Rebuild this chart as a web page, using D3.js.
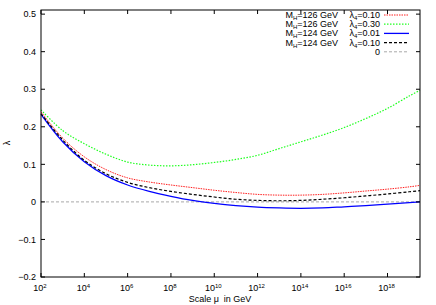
<!DOCTYPE html>
<html>
<head>
<meta charset="utf-8">
<script src="https://cdn.jsdelivr.net/npm/d3@7"></script>
<style>
  body { margin: 0; background: #fff; }
  svg text { font-family: "Liberation Sans", Arial, sans-serif; fill: #000; }
</style>
</head>
<body>
<div id="chart"></div>
<script>
// log10 of the scale mu (GeV)
const logMu = [2, 3, 4, 5, 6, 7, 8, 9, 10, 11, 12, 13, 14, 15, 16, 17, 18, 19, 19.5];

// lambda running for each parameter set
const red126_010 = [0.240, 0.170, 0.120, 0.086, 0.064, 0.053, 0.045, 0.038, 0.031, 0.025, 0.020, 0.018, 0.018, 0.020, 0.024, 0.029, 0.034, 0.040, 0.044];
const green126_030 = [0.245, 0.190, 0.155, 0.127, 0.106, 0.098, 0.096, 0.099, 0.105, 0.113, 0.124, 0.142, 0.160, 0.178, 0.198, 0.222, 0.249, 0.282, 0.297];
const blue124_001 = [0.233, 0.160, 0.107, 0.070, 0.045, 0.028, 0.015, 0.004, -0.004, -0.010, -0.014, -0.016, -0.017, -0.016, -0.013, -0.010, -0.006, -0.002, 0.000];
const black124_010 = [0.235, 0.165, 0.111, 0.075, 0.052, 0.038, 0.028, 0.020, 0.013, 0.007, 0.004, 0.003, 0.004, 0.007, 0.011, 0.016, 0.021, 0.027, 0.030];

const xTickExp = [2, 4, 6, 8, 10, 12, 14, 16, 18];
const yTicks = [-0.2, -0.1, 0, 0.1, 0.2, 0.3, 0.4, 0.5];

const legendMass = ['126', '126', '124', '124'];
const legendLam = ['0.10', '0.30', '0.01', '0.10'];

const width = 436;
const height = 305;
const margin = { top: 10, right: 16, bottom: 28, left: 41 };

const series = [
    { values: red126_010, color: '#ff2020', dash: '1.5,1', w: 1 },
    { values: green126_030, color: '#20ff20', dash: '1.5,1.5', w: 1.2 },
    { values: blue124_001, color: '#0000ff', dash: null, w: 1.3 },
    { values: black124_010, color: '#000000', dash: '3,2', w: 1.2 },
];

const svg = d3.select('#chart')
    .append('svg')
    .attr('width', width)
    .attr('height', height);

const x = d3.scaleLog()
    .domain([1e2, Math.pow(10, 19.5)])
    .range([margin.left, width - margin.right]);

const y = d3.scaleLinear()
    .domain([-0.2, 0.511])
    .range([height - margin.bottom, margin.top]);

const x0 = margin.left, x1 = width - margin.right;
const y0 = height - margin.bottom, y1 = margin.top;

// zero line
svg.append('line')
    .attr('x1', x0).attr('x2', x1)
    .attr('y1', y(0)).attr('y2', y(0))
    .attr('stroke', '#a8a8a8')
    .attr('stroke-width', 1)
    .attr('stroke-dasharray', '3,2');

// curves
const line = d3.line()
    .x((d, i) => x(Math.pow(10, logMu[i])))
    .y(d => y(d))
    .curve(d3.curveCatmullRom);

svg.append('g')
    .selectAll('path')
    .data(series)
    .join('path')
    .attr('d', d => line(d.values))
    .attr('fill', 'none')
    .attr('stroke', d => d.color)
    .attr('stroke-width', d => d.w)
    .attr('stroke-dasharray', d => d.dash);

// frame
svg.append('rect')
    .attr('x', x0).attr('y', y1)
    .attr('width', x1 - x0).attr('height', y0 - y1)
    .attr('fill', 'none')
    .attr('stroke', '#000')
    .attr('stroke-width', 1);

// ticks (inward, mirrored)
const tickLen = 4;
const tk = svg.append('g').attr('stroke', '#000').attr('stroke-width', 1);
xTickExp.forEach(e => {
    const px = x(Math.pow(10, e));
    tk.append('line').attr('x1', px).attr('x2', px).attr('y1', y0).attr('y2', y0 - tickLen);
    tk.append('line').attr('x1', px).attr('x2', px).attr('y1', y1).attr('y2', y1 + tickLen);
});
yTicks.forEach(v => {
    const py = y(v);
    tk.append('line').attr('x1', x0).attr('x2', x0 + tickLen).attr('y1', py).attr('y2', py);
    tk.append('line').attr('x1', x1).attr('x2', x1 - tickLen).attr('y1', py).attr('y2', py);
});

// y tick labels
svg.append('g')
    .selectAll('text')
    .data(yTicks)
    .join('text')
    .attr('x', x0 - 5)
    .attr('y', d => y(d) + 3.2)
    .attr('text-anchor', 'end')
    .attr('font-size', '9px')
    .text(d => d === 0 ? '0' : d3.format('.1f')(d));

// x tick labels 10^n
const xl = svg.append('g')
    .selectAll('text')
    .data(xTickExp)
    .join('text')
    .attr('x', d => x(Math.pow(10, d)) - 1)
    .attr('y', y0 + 14)
    .attr('text-anchor', 'middle')
    .attr('font-size', '9px');
xl.append('tspan').text('10');
xl.append('tspan').attr('dy', -3.5).attr('font-size', '6px').text(d => d);

// axis titles
svg.append('text')
    .attr('x', 220)
    .attr('y', 302)
    .attr('text-anchor', 'middle')
    .attr('font-size', '9px')
    .style('white-space', 'pre')
    .text('Scale μ  in GeV');

svg.append('text')
    .attr('transform', 'translate(10,143) rotate(-90)')
    .attr('text-anchor', 'middle')
    .attr('font-size', '9px')
    .text('λ');

// legend
const legY = i => 15 + i * 9.2;
const leg = svg.append('g');
series.forEach((s, i) => {
    const t1 = leg.append('text')
        .attr('x', 338).attr('y', legY(i) + 3)
        .attr('text-anchor', 'end')
        .attr('font-size', '9px');
    t1.append('tspan').text('M');
    t1.append('tspan').attr('dy', 2).attr('font-size', '6px').text('H');
    t1.append('tspan').attr('dy', -2).text('=' + legendMass[i] + ' GeV');

    const t2 = leg.append('text')
        .attr('x', 380).attr('y', legY(i) + 3)
        .attr('text-anchor', 'end')
        .attr('font-size', '9px');
    t2.append('tspan').text('λ');
    t2.append('tspan').attr('dy', 2).attr('font-size', '6px').text('4');
    t2.append('tspan').attr('dy', -2).text('=' + legendLam[i]);

    leg.append('line')
        .attr('x1', 384).attr('x2', 409)
        .attr('y1', legY(i)).attr('y2', legY(i))
        .attr('stroke', s.color)
        .attr('stroke-width', s.w)
        .attr('stroke-dasharray', s.dash);
});
leg.append('text')
    .attr('x', 380).attr('y', legY(4) + 3)
    .attr('text-anchor', 'end')
    .attr('font-size', '9px')
    .text('0');
leg.append('line')
    .attr('x1', 384).attr('x2', 409)
    .attr('y1', legY(4)).attr('y2', legY(4))
    .attr('stroke', '#a8a8a8')
    .attr('stroke-dasharray', '3,2');
</script>
</body>
</html>
